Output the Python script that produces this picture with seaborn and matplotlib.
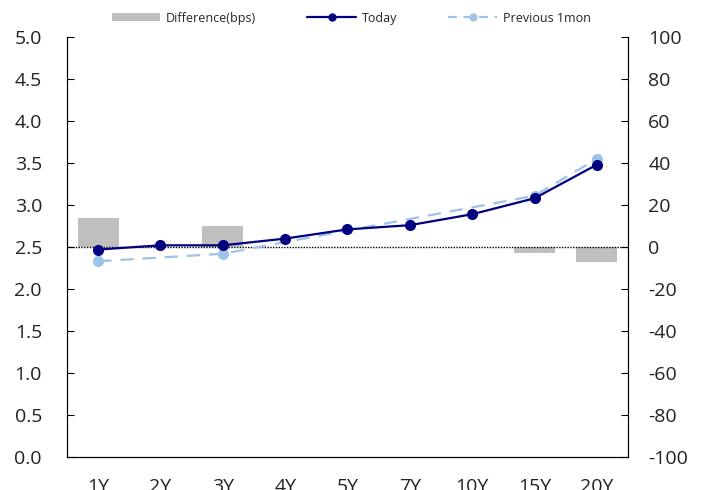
import numpy as np
import pandas as pd
import matplotlib
matplotlib.use("Agg")
import matplotlib.pyplot as plt
from matplotlib.lines import Line2D
from matplotlib.patches import Patch
import seaborn as sns

tenors = ["1Y", "2Y", "3Y", "4Y", "5Y", "7Y", "10Y", "15Y", "20Y"]
today = [2.47, 2.52, 2.52, 2.60, 2.71, 2.76, 2.89, 3.08, 3.48]
previous_1mon = [2.33, np.nan, 2.42, np.nan, np.nan, np.nan, np.nan, 3.11, 3.55]
difference_bps = [14, np.nan, 10, np.nan, np.nan, np.nan, np.nan, -3, -7]

left_ticks = np.arange(0, 5.01, 0.5)
right_ticks = np.arange(-100, 101, 20)

sns.set_theme(style="white")
plt.rcParams["font.family"] = ["Open Sans", "DejaVu Sans"]

df = pd.DataFrame({
    "pos": np.arange(len(tenors)),
    "tenor": tenors,
    "today": today,
    "prev": previous_1mon,
    "diff": difference_bps,
})

fig = plt.figure(figsize=(7.02, 4.90), dpi=100)
ax_bar = fig.add_axes([0.0954, 0.0673, 0.7992, 0.8572])
ax_line = ax_bar.twinx()

gray = "#BFBFBF"
navy = "#000080"
light = "#9DC3E6"

# bars (right scale, bps)
bar_df = df.dropna(subset=["diff"])
sns.barplot(data=bar_df, x="pos", y="diff", ax=ax_bar, color=gray,
            native_scale=True, width=0.66, saturation=1, edgecolor="none")
ax_bar.axhline(0, color="black", lw=1.0, ls=(0, (1, 1)), zorder=1)

# lines (left scale, %); gaps in the previous curve are bridged
prev_df = df.dropna(subset=["prev"])
sns.lineplot(data=prev_df, x="pos", y="prev", ax=ax_line, color=light, lw=1.6,
             dashes=False, linestyle=(0, (6, 4)), marker="o", markersize=8,
             markeredgewidth=0, zorder=3)
sns.lineplot(data=df, x="pos", y="today", ax=ax_line, color=navy, lw=1.6,
             marker="o", markersize=8, markeredgewidth=0, zorder=4)

ax_bar.set_xlim(-0.5, len(tenors) - 0.5)
ax_bar.set_ylim(-100, 100)
ax_line.set_ylim(0, 5)

# right axis carries bps, left axis carries yields
ax_bar.yaxis.tick_right()
ax_bar.yaxis.set_label_position("right")
ax_line.yaxis.tick_left()
ax_line.yaxis.set_label_position("left")
ax_bar.set_yticks(right_ticks)
ax_bar.set_yticklabels([f"{int(v)}" for v in right_ticks])
ax_line.set_yticks(left_ticks)
ax_line.set_yticklabels([f"{v:.1f}" for v in left_ticks])

ax_bar.set_xticks(np.arange(len(tenors)))
ax_bar.set_xticklabels(tenors)
ax_bar.set_xticks(np.arange(0.5, len(tenors) - 0.5), minor=True)
ax_bar.tick_params(axis="x", which="major", length=0, pad=15, labelsize=14)
ax_bar.tick_params(axis="x", which="minor", length=5, direction="in",
                   width=0.8, color="black")
ax_bar.tick_params(axis="y", which="major", direction="in", length=5,
                   width=0.8, color="black", labelsize=14, pad=14.5,
                   right=True, left=False)
ax_line.tick_params(axis="y", which="major", direction="in", length=5,
                    width=0.8, color="black", labelsize=14, pad=18,
                    left=True, right=False)

for a in (ax_bar, ax_line):
    a.set_xlabel("")
    a.set_ylabel("")
    a.spines["top"].set_visible(False)
    for s in ("left", "right", "bottom"):
        a.spines[s].set_color("black")
        a.spines[s].set_linewidth(0.8)
    for lbl in a.get_xticklabels() + a.get_yticklabels():
        lbl.set_color("#222222")

handles = [
    Patch(facecolor=gray, edgecolor="none"),
    Line2D([0], [0], color=navy, lw=1.6, marker="o", markersize=5),
    Line2D([0], [0], color=light, lw=1.6, ls=(0, (4, 3)), marker="o",
           markersize=5),
]
labels = ["Difference(bps)", "Today", "Previous 1mon"]
fig.legend(handles, labels, loc="center", bbox_to_anchor=(0.5, 0.963),
           ncol=3, frameon=False, fontsize=9, handlelength=3.9,
           handleheight=0.6, columnspacing=4.1, handletextpad=0.45)

fig.savefig("out.png", dpi=100)
